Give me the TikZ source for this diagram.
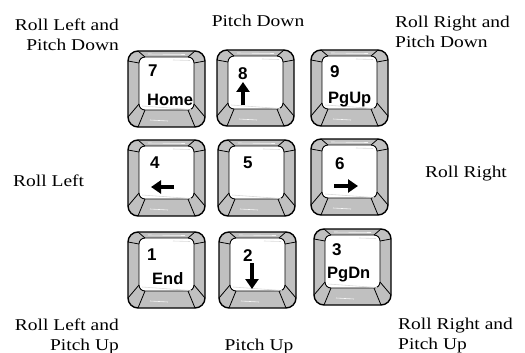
\documentclass[tikz,border=0pt]{standalone}
\usepackage{fontspec}
\setsansfont{Liberation Sans}
\newfontfamily\lblfont{Liberation Serif}[FakeStretch=1.18]
\usetikzlibrary{arrows.meta}
\definecolor{keygray}{RGB}{192,192,192}
\definecolor{facefaint}{RGB}{218,218,218}
\tikzset{
  keyouter/.style={draw=black, line width=1.4pt, fill=keygray, rounded corners=10pt},
  keyface/.style={draw=black, line width=0.9pt, fill=white, rounded corners=6pt},
  facet/.style={draw=black, line width=0.8pt},
  shine/.style={draw=white!85!keygray, line width=0.6pt},
  faint/.style={draw=facefaint, line width=0.6pt},
  keynum/.style={font=\sffamily\bfseries\fontsize{17}{18}\selectfont, inner sep=0pt, anchor=north west},
  keyword/.style={font=\sffamily\bfseries\fontsize{16.5}{18}\selectfont, inner sep=0pt, anchor=base west},
  keyarrow/.style={line width=4pt, -{Triangle[width=13pt,length=10pt]}},
  lbl/.style={font=\lblfont\fontsize{16.5}{20}\selectfont, inner sep=0pt},
}
\newcommand\keycap[3]{%
  \begin{scope}[shift={(#2,#3)}]
    \path[keyouter] (0,0) rectangle (77,76);
    \coordinate (#1) at (38.5,38);
    \draw[shine] (20,3) -- (57,3.5);
    \draw[shine] (22,69) -- (40,70);
    \path[keyface] (11,6) rectangle (66,59);
    \draw[faint] (14,55) -- (63,58.5);
    \draw[faint] (45,9) -- (62,9.5);
    \draw[facet] (0,10) -- (11,12) (10,0) -- (17,6);
    \draw[facet] (77,10) -- (66,12) (67,0) -- (60,6);
    \draw[facet] (0,66) -- (11,53) (10,76) -- (17,59);
    \draw[facet] (77,66) -- (66,53) (67,76) -- (60,59);
  \end{scope}}
\begin{document}
\begin{tikzpicture}[x=1pt,y=-1pt]
\useasboundingbox (0,0) rectangle (525,353);
% keys
\keycap{k7}{128}{51}
\keycap{k8}{217}{50}
\keycap{k9}{311}{50}
\keycap{k4}{128}{140}
\keycap{k5}{218}{140}
\keycap{k6}{311}{139}
\keycap{k1}{128}{232}
\keycap{k2}{219}{232}
\keycap{k3}{314}{229}
% key texts
\node[keynum] (n7) at (148,65) {7};
\node[keyword] (w7) at (147,105) {Home};
\node[keynum] (n8) at (238,67) {8};
\node[keynum] (n9) at (330,65) {9};
\node[keyword] (w9) at (328,103) {PgUp};
\node[keynum] (n4) at (150,157) {4};
\node[keynum] (n5) at (243,157) {5};
\node[keynum] (n6) at (335,157) {6};
\node[keynum] (n1) at (147,249) {1};
\node[keyword] (w1) at (152,284) {End};
\node[keynum] (n2) at (243,249) {2};
\node[keynum] (n3) at (332,243) {3};
\node[keyword] (w3) at (327,278) {PgDn};
% arrows
\coordinate (a8s) at (243,105); \coordinate (a8e) at (243,82);
\coordinate (a4s) at (174,187); \coordinate (a4e) at (151,187);
\coordinate (a6s) at (334,186); \coordinate (a6e) at (358,186);
\coordinate (a2s) at (252,263); \coordinate (a2e) at (252,289);
\draw[keyarrow] (a8s) -- (a8e);
\draw[keyarrow] (a4s) -- (a4e);
\draw[keyarrow] (a6s) -- (a6e);
\draw[keyarrow] (a2s) -- (a2e);
% labels
\node[lbl, anchor=north east, align=right] (ltl) at (119,19) {Roll Left and\\Pitch Down};
\node[lbl, anchor=base] (ltc) at (258,27) {Pitch Down};
\node[lbl, anchor=north west, align=left] (ltr) at (395,16) {Roll Right and\\Pitch Down};
\node[lbl, anchor=base west] (lml) at (13,186) {Roll Left};
\node[lbl, anchor=base west] (lmr) at (425,177) {Roll Right};
\node[lbl, anchor=north east, align=right] (lbl) at (119,319) {Roll Left and\\Pitch Up};
\node[lbl, anchor=base] (lbc) at (259,350) {Pitch Up};
\node[lbl, anchor=north west, align=left] (lbr) at (398,318) {Roll Right and\\Pitch Up};
\end{tikzpicture}
\end{document}
